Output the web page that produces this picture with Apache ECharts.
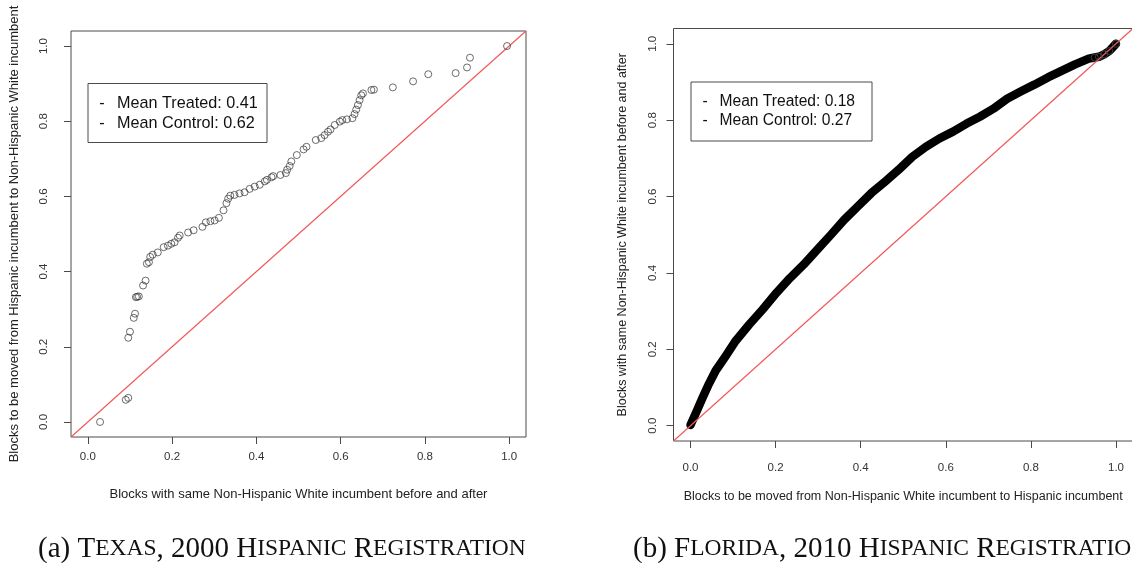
<!DOCTYPE html>
<html>
<head>
<meta charset="utf-8">
<script src="https://cdn.jsdelivr.net/npm/echarts@6/dist/echarts.min.js"></script>
<style>
  html, body { margin: 0; padding: 0; background: #fff; }
  #chart { width: 1132px; height: 563px; }
</style>
</head>
<body>
<div id="chart"></div>
<script>
// Panel (a): Texas QQ points (x = same-incumbent blocks, y = blocks to be moved)
const texasX = [0.029, 0.090, 0.096, 0.096, 0.100, 0.109, 0.112, 0.114, 0.117, 0.121,
  0.131, 0.137, 0.140, 0.145, 0.148, 0.154, 0.166, 0.180, 0.190, 0.198,
  0.206, 0.214, 0.218, 0.238, 0.251, 0.272, 0.280, 0.291, 0.301, 0.311,
  0.322, 0.329, 0.333, 0.338, 0.348, 0.360, 0.372, 0.384, 0.396, 0.408,
  0.420, 0.425, 0.436, 0.440, 0.457, 0.470, 0.473, 0.479, 0.483, 0.496,
  0.512, 0.519, 0.541, 0.554, 0.562, 0.570, 0.576, 0.586, 0.598, 0.604,
  0.615, 0.628, 0.633, 0.637, 0.641, 0.645, 0.649, 0.653, 0.673, 0.679,
  0.724, 0.772, 0.808, 0.873, 0.900, 0.907, 0.995];
const texasY = [0.000, 0.059, 0.064, 0.224, 0.240, 0.277, 0.288, 0.332, 0.333, 0.334,
  0.363, 0.376, 0.421, 0.425, 0.439, 0.445, 0.451, 0.465, 0.469, 0.474,
  0.478, 0.490, 0.496, 0.504, 0.510, 0.519, 0.531, 0.534, 0.536, 0.543,
  0.563, 0.582, 0.594, 0.602, 0.604, 0.608, 0.611, 0.620, 0.626, 0.631,
  0.640, 0.644, 0.651, 0.654, 0.657, 0.662, 0.671, 0.681, 0.693, 0.710,
  0.725, 0.732, 0.750, 0.755, 0.763, 0.772, 0.778, 0.790, 0.799, 0.803,
  0.805, 0.808, 0.819, 0.831, 0.843, 0.856, 0.869, 0.874, 0.883, 0.884,
  0.890, 0.906, 0.925, 0.928, 0.943, 0.969, 1.000];

// Panel (b): Florida QQ curve
const floridaX = [0.000, 0.015, 0.027, 0.043, 0.059, 0.083, 0.106, 0.138, 0.170, 0.202,
  0.234, 0.266, 0.298, 0.330, 0.361, 0.393, 0.425, 0.457, 0.489, 0.521,
  0.553, 0.585, 0.617, 0.649, 0.680, 0.712, 0.744, 0.776, 0.808, 0.840,
  0.872, 0.904, 0.936, 0.950, 0.960, 0.972, 0.984, 1.000];
const floridaY = [0.002, 0.039, 0.070, 0.109, 0.144, 0.183, 0.222, 0.265, 0.305, 0.348,
  0.387, 0.422, 0.461, 0.500, 0.539, 0.574, 0.609, 0.639, 0.670, 0.704,
  0.730, 0.752, 0.770, 0.791, 0.809, 0.830, 0.856, 0.875, 0.893, 0.912,
  0.929, 0.946, 0.961, 0.964, 0.966, 0.972, 0.981, 1.000];

const tickValues = [0, 0.2, 0.4, 0.6, 0.8, 1.0];
const axisRange = [-0.04, 1.04];

const texasLegend = ['Mean Treated: 0.41', 'Mean Control: 0.62'];
const floridaLegend = ['Mean Treated: 0.18', 'Mean Control: 0.27'];

const texasXTitle = 'Blocks with same Non-Hispanic White incumbent before and after';
const texasYTitle = 'Blocks to be moved from Hispanic incumbent to Non-Hispanic White incumbent';
const floridaXTitle = 'Blocks to be moved from Non-Hispanic White incumbent to Hispanic incumbent';
const floridaYTitle = 'Blocks with same Non-Hispanic White incumbent before and after';

const SANS = "'Liberation Sans', Arial, Helvetica, sans-serif";
const SERIF = "'Liberation Serif', 'Times New Roman', serif";
const FRAME = '#4a4a4a';
const REF_RED = '#f25a5a';

function zip(xs, ys) { return xs.map((x, i) => [x, ys[i]]); }

function valueAxis(gridIndex, name, nameGap, nameSize, labelMargin, isY) {
  return {
    type: 'value', gridIndex, min: axisRange[0], max: axisRange[1],
    name, nameLocation: 'middle', nameGap,
    nameTextStyle: { fontFamily: SANS, fontSize: nameSize, color: '#222' },
    axisLine: { show: false, onZero: false },
    splitLine: { show: false },
    axisTick: { show: true, inside: false, length: 7, customValues: tickValues,
      lineStyle: { color: FRAME, width: 1 } },
    axisLabel: { show: true, customValues: tickValues, margin: labelMargin,
      rotate: isY ? 90 : 0, fontFamily: SANS, fontSize: 11.5, color: '#333',
      formatter: v => v.toFixed(1) }
  };
}

function legendBox(x, y, w, h, dashX, textX, lineY, size, lines) {
  const children = [{
    type: 'rect', shape: { x, y, width: w, height: h },
    style: { fill: '#fff', stroke: FRAME, lineWidth: 1 }
  }];
  lines.forEach((t, i) => {
    children.push({ type: 'text', x: dashX, y: lineY[i],
      style: { text: '-', fontFamily: SANS, fontSize: size, fill: '#111',
        align: 'center', verticalAlign: 'middle' } });
    children.push({ type: 'text', x: textX, y: lineY[i],
      style: { text: t, fontFamily: SANS, fontSize: size, fill: '#111',
        align: 'left', verticalAlign: 'middle' } });
  });
  return { type: 'group', children, z: 100 };
}

// Small-caps caption built from rich text runs
function caption(x, y, parts) {
  const text = parts.map(p => `{${p[0]}|${p[1]}}`).join('');
  return {
    type: 'text', x, y, z: 100,
    style: {
      text, verticalAlign: 'middle', align: 'left',
      rich: {
        n: { fontFamily: SERIF, fontSize: 29, fill: '#111' },
        s: { fontFamily: SERIF, fontSize: 23.5, fill: '#111' }
      }
    }
  };
}

const chart = echarts.init(document.getElementById('chart'), null, { renderer: 'canvas' });

chart.setOption({
  backgroundColor: '#fff',
  animation: false,
  grid: [
    { left: 71, top: 31, width: 455, height: 406, show: true, borderColor: FRAME,
      borderWidth: 1, backgroundColor: 'transparent', containLabel: false, outerBoundsMode: 'none' },
    { left: 673.5, top: 28.5, width: 459.5, height: 412.5, show: true, borderColor: FRAME,
      borderWidth: 1, backgroundColor: 'transparent', containLabel: false, outerBoundsMode: 'none' }
  ],
  xAxis: [
    valueAxis(0, texasXTitle, 51, 13, 14, false),
    valueAxis(1, floridaXTitle, 49, 12.5, 21, false)
  ],
  yAxis: [
    valueAxis(0, texasYTitle, 50, 13, 21, true),
    valueAxis(1, floridaYTitle, 44, 12.5, 15, true)
  ],
  series: [
    { type: 'line', xAxisIndex: 0, yAxisIndex: 0, data: [[axisRange[0], axisRange[0]], [axisRange[1], axisRange[1]]],
      showSymbol: false, lineStyle: { color: REF_RED, width: 1.2 }, z: 1, silent: true },
    { type: 'scatter', xAxisIndex: 0, yAxisIndex: 0, data: zip(texasX, texasY),
      symbol: 'circle', symbolSize: 7,
      itemStyle: { color: 'rgba(0,0,0,0)', borderColor: '#333', borderWidth: 0.9 }, z: 2 },

    { type: 'line', xAxisIndex: 1, yAxisIndex: 1, data: [[axisRange[0], axisRange[0]], [axisRange[1], axisRange[1]]],
      showSymbol: false, lineStyle: { color: REF_RED, width: 1.2 }, z: 3, silent: true },
    { type: 'line', xAxisIndex: 1, yAxisIndex: 1, data: zip(floridaX, floridaY),
      showSymbol: false, smooth: false,
      lineStyle: { color: '#000', width: 8.5, cap: 'round', join: 'round' }, z: 2 },
    { type: 'scatter', xAxisIndex: 1, yAxisIndex: 1, data: zip(floridaX, floridaY).slice(-5),
      symbol: 'circle', symbolSize: 7,
      itemStyle: { color: 'rgba(0,0,0,0)', borderColor: '#555', borderWidth: 0.9 }, z: 4 }
  ],
  graphic: [
    legendBox(88, 83.5, 179, 59, 102, 117, [103.5, 123.5], 16.2, texasLegend),
    legendBox(691, 82, 181, 59, 705, 719.5, [101.5, 120.5], 15.6, floridaLegend),
    caption(38, 549, [['n', '(a) '], ['n', 'T'], ['s', 'EXAS'], ['n', ', 2000 '], ['n', 'H'], ['s', 'ISPANIC'], ['n', ' '], ['n', 'R'], ['s', 'EGISTRATION']]),
    caption(633, 549, [['n', '(b) '], ['n', 'F'], ['s', 'LORIDA'], ['n', ', 2010 '], ['n', 'H'], ['s', 'ISPANIC'], ['n', ' '], ['n', 'R'], ['s', 'EGISTRATION']])
  ]
});
</script>
</body>
</html>
